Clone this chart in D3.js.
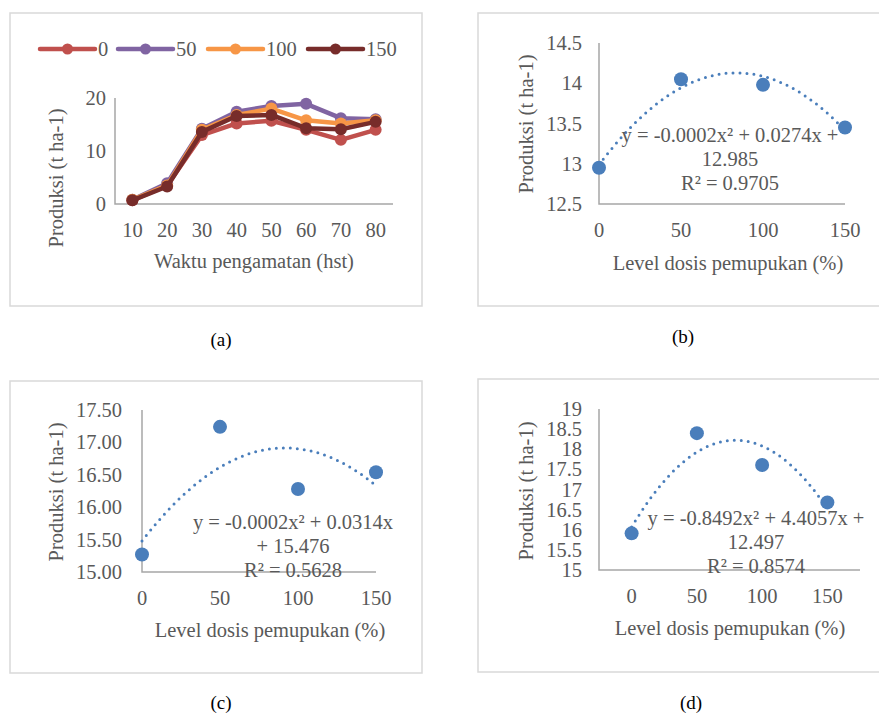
<!DOCTYPE html>
<html lang="id">
<head>
    <meta charset="UTF-8">
    <title>Produksi</title>
    <script src="https://cdnjs.cloudflare.com/ajax/libs/d3/7.8.5/d3.min.js"></script>
    <style>
        body { margin: 0; background: #fff; }
    </style>
</head>
<body>

<script>
    // data (a): produksi per waktu pengamatan
    var hari = [10, 20, 30, 40, 50, 60, 70, 80];
    var seri = ["0", "50", "100", "150"];
    var prod0   = [0.7, 3.5, 13.0, 15.2, 15.7, 14.0, 12.1, 14.0];
    var prod50  = [0.8, 3.9, 14.2, 17.4, 18.5, 18.9, 16.2, 16.0];
    var prod100 = [0.8, 3.5, 14.0, 16.8, 18.0, 15.8, 15.2, 15.8];
    var prod150 = [0.7, 3.3, 13.6, 16.6, 16.8, 14.3, 14.1, 15.5];
    var warna = ["#c0504d", "#8064a2", "#f79646", "#772c2a"];

    // data (b), (c), (d): produksi per level dosis
    var dosis = [0, 50, 100, 150];
    var hasilB = [12.95, 14.05, 13.98, 13.45];
    var hasilC = [15.27, 17.24, 16.28, 16.54];
    var hasilD = [15.91, 18.40, 17.61, 16.68];

    var ticksA = [0, 10, 20];
    var ticksB = [12.5, 13, 13.5, 14, 14.5];
    var ticksC = [15, 15.5, 16, 16.5, 17, 17.5];
    var ticksD = [15, 15.5, 16, 16.5, 17, 17.5, 18, 18.5, 19];
    var ticksX = [0, 50, 100, 150];

    var persB = ["y = -0.0002x\u00b2 + 0.0274x +", "12.985", "R\u00b2 = 0.9705"];
    var persC = ["y = -0.0002x\u00b2 + 0.0314x", "+ 15.476", "R\u00b2 = 0.5628"];
    var persD = ["y = -0.8492x\u00b2 + 4.4057x +", "12.497", "R\u00b2 = 0.8574"];

    var width = 879;
    var height = 715;
    var abu = "#595959";
    var biru = "#4a7ebb";
    var huruf = "'Liberation Serif', 'Times New Roman', 'DejaVu Serif', serif";

    var svg = d3.select('body')
            .append('svg')
            .attr('width', width)
            .attr('height', height)
            .attr('font-family', huruf);

    svg.append('rect').attr('width', width).attr('height', height).attr('fill', '#fff');

    function kotak(x0, y0, x1, y1) {
        svg.append('rect')
                .attr('x', x0).attr('y', y0)
                .attr('width', x1 - x0).attr('height', y1 - y0)
                .attr('fill', 'none')
                .attr('stroke', '#d9d9d9')
                .attr('stroke-width', 1.5);
    }

    function label(txt, x, y, anchor, size, fill) {
        return svg.append('text')
                .attr('x', x).attr('y', y)
                .attr('text-anchor', anchor || 'middle')
                .attr('font-family', huruf)
                .attr('font-size', size || 20.5)
                .attr('fill', fill || abu)
                .text(txt);
    }

    function judulY(cx, cy) {
        svg.append('text')
                .attr('transform', 'translate(' + cx + ',' + cy + ') rotate(-90)')
                .attr('text-anchor', 'middle')
                .attr('font-family', huruf)
                .attr('font-size', 20.5)
                .attr('fill', abu)
                .text('Produksi (t ha-1)');
    }

    function sumbu(x0, x1, y0, y1) {
        svg.append('path')
                .attr('d', 'M' + x0 + ',' + y0 + 'V' + y1 + 'H' + x1)
                .attr('fill', 'none')
                .attr('stroke', '#a6a6a6')
                .attr('stroke-width', 1.5);
    }

    // kuadrat terkecil orde 2
    function fitKuadrat(xs, ys) {
        var s = [0, 0, 0, 0, 0], t = [0, 0, 0];
        xs.forEach(function (x, i) {
            for (var k = 0; k < 5; k++) s[k] += Math.pow(x, k);
            for (var k2 = 0; k2 < 3; k2++) t[k2] += Math.pow(x, k2) * ys[i];
        });
        var m = [[s[0], s[1], s[2], t[0]], [s[1], s[2], s[3], t[1]], [s[2], s[3], s[4], t[2]]];
        for (var c = 0; c < 3; c++) {
            for (var r = c + 1; r < 3; r++) {
                var f = m[r][c] / m[c][c];
                for (var j = c; j < 4; j++) m[r][j] -= f * m[c][j];
            }
        }
        var b = [0, 0, 0];
        for (var r2 = 2; r2 >= 0; r2--) {
            var v = m[r2][3];
            for (var j2 = r2 + 1; j2 < 3; j2++) v -= m[r2][j2] * b[j2];
            b[r2] = v / m[r2][r2];
        }
        return function (x) { return b[0] + b[1] * x + b[2] * x * x; };
    }

    // ---------- (a) ----------
    kotak(10, 13, 422, 306);
    var xA = d3.scaleBand().domain(hari).range([115, 393]);
    var yA = d3.scaleLinear().domain([0, 20]).range([204, 98]);
    sumbu(115, 393, 98, 204);
    ticksA.forEach(function (t) { label(t, 106, yA(t) + 7, 'end'); });
    hari.forEach(function (h) { label(h, xA(h) + xA.bandwidth() / 2, 237); });
    label('Waktu pengamatan (hst)', 254, 268);
    judulY(63, 178);

    var semua = [prod0, prod50, prod100, prod150];
    var garis = d3.line()
            .x(function (d, i) { return xA(hari[i]) + xA.bandwidth() / 2; })
            .y(function (d) { return yA(d); });
    semua.forEach(function (vals, k) {
        svg.append('path')
                .attr('d', garis(vals))
                .attr('fill', 'none')
                .attr('stroke', warna[k])
                .attr('stroke-width', 4.5)
                .attr('stroke-linejoin', 'round');
        svg.selectAll(null)
                .data(vals)
                .enter()
                .append('circle')
                .attr('cx', function (d, i) { return xA(hari[i]) + xA.bandwidth() / 2; })
                .attr('cy', function (d) { return yA(d); })
                .attr('r', 6)
                .attr('fill', warna[k]);
    });

    // legenda
    var legX = [40, 118, 208, 308];
    seri.forEach(function (s, k) {
        var lx = legX[k];
        svg.append('line')
                .attr('x1', lx).attr('x2', lx + 55)
                .attr('y1', 49).attr('y2', 49)
                .attr('stroke', warna[k])
                .attr('stroke-width', 4.5)
                .attr('stroke-linecap', 'round');
        svg.append('circle').attr('cx', lx + 27.5).attr('cy', 49).attr('r', 5.5).attr('fill', warna[k]);
        label(s, lx + 58, 56, 'start');
    });
    label('(a)', 221, 346, 'middle', 19, '#000');

    // ---------- panel sebar ----------
    function sebar(opt) {
        kotak(opt.box[0], opt.box[1], opt.box[2], opt.box[3]);
        var x = d3.scaleLinear().domain(opt.xdom).range([opt.left, opt.right]);
        var y = d3.scaleLinear().domain(opt.ydom).range([opt.bottom, opt.top]);
        sumbu(opt.left, opt.right, opt.top, opt.bottom);
        opt.yticks.forEach(function (t) { label(opt.fmt(t), opt.ylab, y(t) + 7, 'end'); });
        ticksX.forEach(function (t) { label(t, x(t), opt.xlab); });
        label('Level dosis pemupukan (%)', opt.titX[0], opt.titX[1]);
        judulY(opt.titY[0], opt.titY[1]);

        var f = fitKuadrat(dosis, opt.vals);
        var xs = d3.range(0, 150.01, 1);
        svg.append('path')
                .attr('d', d3.line().x(function (d) { return x(d); }).y(function (d) { return y(f(d)); })(xs))
                .attr('fill', 'none')
                .attr('stroke', biru)
                .attr('stroke-width', 3)
                .attr('stroke-dasharray', '0 7')
                .attr('stroke-linecap', 'round');

        svg.selectAll(null)
                .data(opt.vals)
                .enter()
                .append('circle')
                .attr('cx', function (d, i) { return x(dosis[i]); })
                .attr('cy', function (d) { return y(d); })
                .attr('r', 7)
                .attr('fill', biru);

        opt.pers.forEach(function (p, i) {
            label(p, opt.eq[0], opt.eq[1] + i * 24);
        });
        label(opt.cap[0], opt.cap[1], opt.cap[2], 'middle', 19, '#000');
    }

    sebar({
        box: [478, 13, 892, 306], left: 599, right: 845, top: 43, bottom: 204,
        xdom: [0, 150], ydom: [12.5, 14.5], yticks: ticksB, fmt: d3.format(''),
        ylab: 582, xlab: 237, titX: [728, 270], titY: [533, 124],
        vals: hasilB, pers: persB, eq: [730, 142], cap: ['(b)', 683, 343]
    });
    sebar({
        box: [10, 381, 422, 673], left: 142, right: 376, top: 410, bottom: 572,
        xdom: [0, 150], ydom: [15, 17.5], yticks: ticksC, fmt: d3.format('.2f'),
        ylab: 122, xlab: 605, titX: [270, 637], titY: [63, 492],
        vals: hasilC, pers: persC, eq: [293, 529], cap: ['(c)', 221, 709]
    });
    sebar({
        box: [478, 379, 892, 672], left: 599, right: 860, top: 409, bottom: 570,
        xdom: [-25, 175], ydom: [15, 19], yticks: ticksD, fmt: d3.format(''),
        ylab: 582, xlab: 603, titX: [730, 635], titY: [533, 491],
        vals: hasilD, pers: persD, eq: [756, 525], cap: ['(d)', 691, 709]
    });
</script>
</body>
</html>
